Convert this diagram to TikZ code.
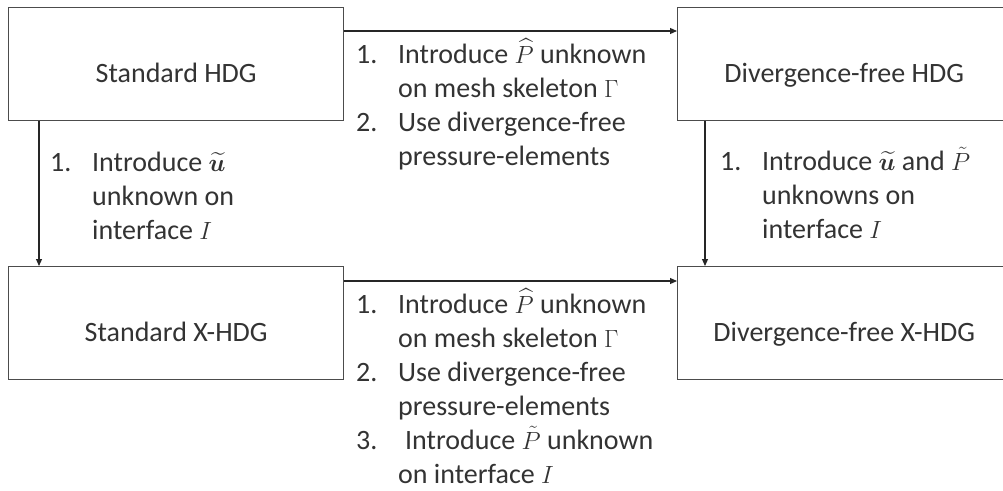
\documentclass[tikz,border=0pt]{standalone}
\usepackage{amsmath,bm}
\usepackage{fontspec}
\setmainfont{Carlito}
\usetikzlibrary{arrows.meta,calc}
\newcommand{\itm}[1]{\makebox[42pt][l]{#1}}
\begin{document}
\begin{tikzpicture}[x=1pt,y=-1pt,
  font=\fontsize{28}{34}\selectfont,
  procbox/.style={draw=black!70, line width=1.4pt, minimum width=#1, minimum height=113pt,
    inner sep=2pt, text height=36pt, text depth=0pt, anchor=north west, text=black!80},
  stepnote/.style={anchor=base west, inner sep=0pt, text=black!80},
  flow/.style={draw=black!85, line width=1.1pt, -{Triangle[length=7pt,width=6pt]}}]
\clip (0,0) rectangle (1003,490);
\fill[white] (0,0) rectangle (1003,490);
\node[procbox=335pt] (b1) at (8,7) {Standard HDG};
\node[procbox=333pt] (b2) at (677,7) {Divergence-free HDG};
\node[procbox=335pt] (b3) at (8,266) {Standard X-HDG};
\node[procbox=333pt] (b4) at (677,266) {Divergence-free X-HDG};
\draw[flow] ([yshift=-24pt]b1.north east) -- ([yshift=-24pt]b2.north west);
\draw[flow] ([yshift=-15pt]b3.north east) -- ([yshift=-15pt]b4.north west);
\draw[flow] ([xshift=31pt]b1.south west) -- ([xshift=31pt]b3.north west);
\draw[flow] ([xshift=28pt]b2.south west) -- ([xshift=28pt]b4.north west);
\node[stepnote] (t1) at (356,63) {\begin{tabular}[t]{@{}l@{}l@{}}
\itm{1.} & Introduce $\widehat{P}$ unknown\\
 & on mesh skeleton $\Gamma$\\
\itm{2.} & Use divergence-free\\
 & pressure-elements
\end{tabular}};
\node[stepnote] (t2) at (356,313) {\begin{tabular}[t]{@{}l@{}l@{}}
\itm{1.} & Introduce $\widehat{P}$ unknown\\
 & on mesh skeleton $\Gamma$\\
\itm{2.} & Use divergence-free\\
 & pressure-elements\\
\itm{3.} & \hspace{7pt}Introduce $\tilde{P}$ unknown\\
 & on interface $I$
\end{tabular}};
\node[stepnote] (t3) at (50,171) {\begin{tabular}[t]{@{}l@{}l@{}}
\itm{1.} & Introduce $\widetilde{\bm{u}}$\\
 & unknown on\\
 & interface $I$
\end{tabular}};
\node[stepnote] (t4) at (720,170) {\begin{tabular}[t]{@{}l@{}l@{}}
\itm{1.} & Introduce $\widetilde{\bm{u}}$ and $\tilde{P}$\\
 & unknowns on\\
 & interface $I$
\end{tabular}};
\end{tikzpicture}
\end{document}
